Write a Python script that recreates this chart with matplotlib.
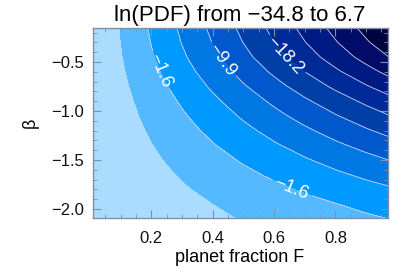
import numpy as np
import matplotlib
matplotlib.use("Agg")
import matplotlib.pyplot as plt
from matplotlib.colors import ListedColormap

plt.rcParams['font.family'] = ['Liberation Sans', 'DejaVu Sans']

# ---- data ----
TITLE = "ln(PDF) from \u221234.8 to 6.7"
LN_PDF_MIN = -34.8
LN_PDF_MAX = 6.7
N_LEVELS = 11

F_VALUES = [0.0, 0.1, 0.2, 0.3, 0.4, 0.5, 0.6, 0.7, 0.8, 0.9, 1.0]
BETA_VALUES = [-2.1, -1.95, -1.8, -1.65, -1.5, -1.35, -1.2, -1.05,
               -0.9, -0.75, -0.6, -0.45, -0.3, -0.15]

# ln(PDF) at each (beta row, F column)
LN_PDF = [
    [6.70, 5.81, 4.93, 4.06, 3.20, 2.34, 1.49, 0.64, -0.19, -1.02, -1.84],
    [6.70, 5.64, 4.60, 3.56, 2.53, 1.51, 0.49, -0.51, -1.51, -2.50, -3.48],
    [6.70, 5.43, 4.16, 2.91, 1.66, 0.43, -0.80, -2.01, -3.21, -4.41, -5.59],
    [6.70, 5.19, 3.68, 2.20, 0.72, -0.75, -2.20, -3.64, -5.07, -6.49, -7.89],
    [6.70, 4.93, 3.18, 1.44, -0.29, -2.00, -3.69, -5.38, -7.05, -8.70, -10.34],
    [6.70, 4.66, 2.63, 0.62, -1.37, -3.35, -5.31, -7.25, -9.18, -11.09, -12.98],
    [6.70, 4.37, 2.06, -0.24, -2.51, -4.77, -7.00, -9.22, -11.42, -13.60, -15.76],
    [6.70, 4.07, 1.45, -1.14, -3.71, -6.26, -8.79, -11.30, -13.78, -16.25, -18.69],
    [6.70, 3.75, 0.83, -2.07, -4.95, -7.80, -10.63, -13.44, -16.22, -18.98, -21.72],
    [6.70, 3.40, 0.13, -3.11, -6.33, -9.52, -12.68, -15.82, -18.93, -22.02, -25.08],
    [6.70, 3.05, -0.56, -4.15, -7.71, -11.23, -14.73, -18.20, -21.64, -25.05, -28.44],
    [6.70, 2.73, -1.22, -5.13, -9.00, -12.85, -16.67, -20.45, -24.20, -27.92, -31.60],
    [6.70, 2.47, -1.73, -5.90, -10.03, -14.13, -18.19, -22.22, -26.21, -30.17, -34.10],
    [6.70, 2.27, -2.13, -6.49, -10.82, -15.11, -19.36, -23.58, -27.76, -31.91, -36.02],
]

X_TICKS = [0.2, 0.4, 0.6, 0.8]
Y_TICKS = [-2.0, -1.5, -1.0, -0.5]
X_LABEL = "planet fraction F"
Y_LABEL = "\u03b2"

# band colours from lowest to highest level
BAND_COLORS = ['#000440', '#000c68', '#001a84', '#002a98', '#003ea8',
               '#0058cc', '#0078e4', '#009aff', '#55b9ff', '#a9dcff']

# ---- plot ----
levels = np.linspace(LN_PDF_MIN, LN_PDF_MAX, N_LEVELS)
F = np.array(F_VALUES)
B = np.array(BETA_VALUES)
Z = np.clip(np.array(LN_PDF), LN_PDF_MIN, LN_PDF_MAX)

fig = plt.figure(figsize=(4.15, 2.77), dpi=100)
ax = fig.add_axes([0.223, 0.212, 0.711, 0.687])

ax.contourf(F, B, Z, levels=levels, cmap=ListedColormap(BAND_COLORS))
cl = ax.contour(F, B, Z, levels=levels[1:9], colors='#c8d2ee',
                linewidths=0.6, linestyles='solid')


def fmt(v):
    return f"{v:.1f}".replace('-', '\u2212')


label_pos = [(0.233, -0.58), (0.46, -0.41), (0.655, -0.39), (0.66, -1.77)]
ax.clabel(cl, manual=label_pos, fmt=fmt, fontsize=13, colors='white',
          inline=True, inline_spacing=3)

ax.set_xlim(0.008, 0.97)
ax.set_ylim(-2.095, -0.153)
ax.set_xticks(X_TICKS)
ax.set_yticks(Y_TICKS)
ax.set_xticklabels([f"{v:.1f}" for v in X_TICKS])
ax.set_yticklabels([f"{v:.1f}".replace('-', '\u2212') for v in Y_TICKS])
ax.xaxis.set_minor_locator(matplotlib.ticker.MultipleLocator(0.05))
ax.yaxis.set_minor_locator(matplotlib.ticker.MultipleLocator(0.1))
spine_c = '#8090a8'
ax.tick_params(which='both', direction='in', top=True, right=True,
               color=spine_c, labelsize=12, labelcolor='#111111')
ax.tick_params(axis='x', which='major', pad=9)
ax.tick_params(axis='y', which='major', pad=6)
ax.tick_params(which='major', length=6, width=0.8)
ax.tick_params(which='minor', length=3, width=0.6)
for s in ax.spines.values():
    s.set_color(spine_c)
    s.set_linewidth(1.0)

ax.set_title(TITLE, fontsize=16, pad=5)
ax.set_xlabel(X_LABEL, fontsize=13, labelpad=2)
ax.set_ylabel(Y_LABEL, fontsize=13, labelpad=9)

fig.savefig("out.png", dpi=100)
